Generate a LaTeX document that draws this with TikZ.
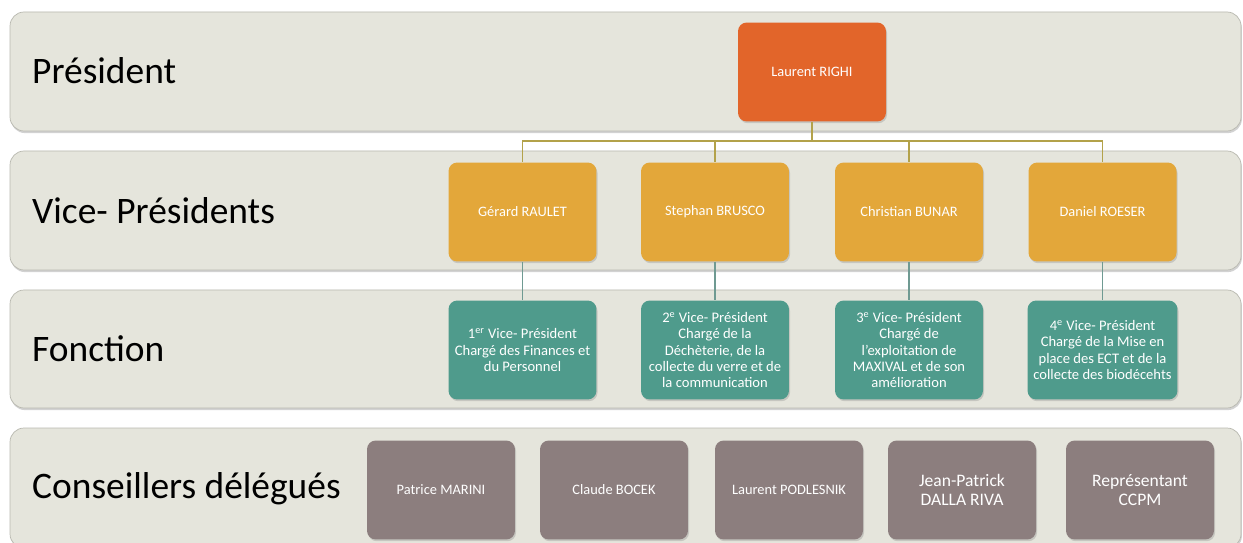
\documentclass[tikz,border=0pt]{standalone}
\usepackage{fontspec}
\setmainfont{Carlito}
\usepackage{xcolor}
\usetikzlibrary{shadows}

\definecolor{bandfill}{HTML}{E5E5DC}
\definecolor{bandline}{HTML}{B9B9B0}
\definecolor{presfill}{HTML}{E2652A}
\definecolor{vpfill}{HTML}{E3A73A}
\definecolor{fctfill}{HTML}{4F9B8C}
\definecolor{cslfill}{HTML}{8C7E7E}
\definecolor{busline}{HTML}{B3A24A}
\definecolor{fctline}{HTML}{6F9A92}

\tikzset{
  band/.style={draw=bandline, fill=bandfill, rounded corners=8pt, drop shadow={opacity=0.35, shadow xshift=0.5pt, shadow yshift=-1.2pt}},
  rowlabel/.style={anchor=west, font=\fontsize{21.3}{24}\selectfont},
  box/.style={rectangle, rounded corners=5pt, minimum width=2.96cm, minimum height=1.98cm, text=white, align=center, drop shadow={opacity=0.3, shadow xshift=0.6pt, shadow yshift=-1pt}},
  presbox/.style={box, fill=presfill, font=\fontsize{8.2}{9.5}\selectfont},
  vpbox/.style={box, fill=vpfill, font=\fontsize{8.2}{9.5}\selectfont},
  fctbox/.style={box, fill=fctfill, font=\fontsize{8.3}{9.2}\selectfont},
  cslbox/.style={box, fill=cslfill, font=\fontsize{8.2}{9.5}\selectfont},
  cslbig/.style={cslbox, font=\fontsize{10}{11.2}\selectfont},
  link/.style={draw=busline, line width=0.9pt},
  fctlink/.style={draw=fctline, line width=0.9pt}
}
\newcommand{\ordsup}[1]{\textsuperscript{#1}}

\begin{document}
\begin{tikzpicture}[x=0.02cm, y=-0.02cm]
  \useasboundingbox (0,0) rectangle (1243,543);
  \fill[white] (0,0) rectangle (1243,543);

  % bands
  \draw[band] (10,12) rectangle (1241,131);
  \draw[band] (10,151) rectangle (1241,270);
  \draw[band] (10,290) rectangle (1241,408);
  \draw[band] (10,428) rectangle (1241,548);

  \node[rowlabel] (lpres) at (26,71) {Président};
  \node[rowlabel] (lvp) at (26,211) {Vice- Présidents};
  \node[rowlabel] (lfct) at (26,349) {Fonction};
  \node[rowlabel] (lcsl) at (26,489) {Conseillers délégués};

  % president
  \node[presbox] (pres) at (812,72) {Laurent RIGHI};

  % vice-presidents
  \node[vpbox] (vp1) at (522.5,212) {Gérard RAULET};
  \node[vpbox] (vp2) at (715,212) {Stephan BRUSCO};
  \node[vpbox] (vp3) at (909,212) {Christian BUNAR};
  \node[vpbox] (vp4) at (1102.5,212) {Daniel ROESER};

  % functions
  \node[fctbox] (f1) at (522.5,350) {1\ordsup{er} Vice- Président\\Chargé des Finances et\\du Personnel};
  \node[fctbox] (f2) at (715,350) {2\ordsup{e} Vice- Président\\Chargé de la\\Déchèterie, de la\\collecte du verre et de\\la communication};
  \node[fctbox] (f3) at (909,350) {3\ordsup{e} Vice- Président\\Chargé de\\l’exploitation de\\MAXIVAL et de son\\amélioration};
  \node[fctbox] (f4) at (1102.5,350) {4\ordsup{e} Vice- Président\\Chargé de la Mise en\\place des ECT et de la\\collecte des biodécehts};

  % conseillers
  \node[cslbox] (c1) at (441,490) {Patrice MARINI};
  \node[cslbox] (c2) at (614,490) {Claude BOCEK};
  \node[cslbox] (c3) at (789,490) {Laurent PODLESNIK};
  \node[cslbig] (c4) at (962,490) {Jean-Patrick\\DALLA RIVA};
  \node[cslbig] (c5) at (1140,490) {Représentant\\CCPM};

  % connectors
  \coordinate (bus) at (812,141);
  \draw[link] (pres.south) -- (bus);
  \foreach \i in {1,...,4} {
    \draw[link] (bus) -| (vp\i.north);
    \draw[fctlink] (vp\i.south) -- (f\i.north);
  }
\end{tikzpicture}
\end{document}
